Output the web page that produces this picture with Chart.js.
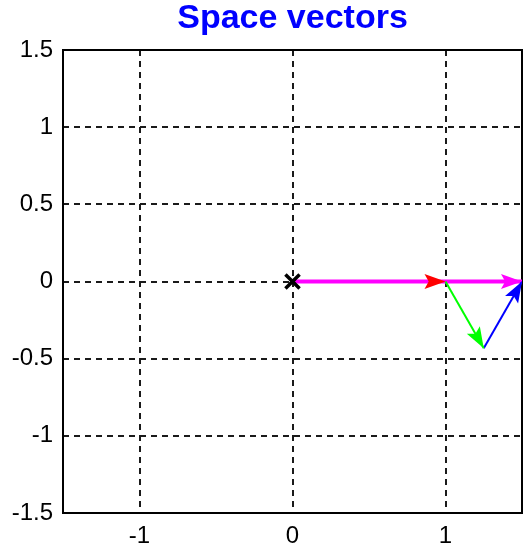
<!DOCTYPE html>
<html>
<head>
<meta charset="utf-8">
<title>Space vectors</title>
<script src="https://cdn.jsdelivr.net/npm/chart.js@4/dist/chart.umd.min.js"></script>
<style>
  html, body { margin: 0; padding: 0; background: #ffffff; }
  #wrap { width: 524px; height: 550px; }
</style>
</head>
<body>
<div id="wrap"><canvas id="chart" width="524" height="550"></canvas></div>
<script>
// Space vectors: phase components and their resultant
const vectorLabels = ['u_a', 'u_s', 'u_b', 'u_c'];
const startX = [0, 0, 1, 1.25];
const startY = [0, 0, 0, -0.433];
const endX   = [1, 1.5, 1.25, 1.5];
const endY   = [0, 0, -0.433, 0];

// Origin marker
const originX = [0];
const originY = [0];

// Axis ticks
const xTickValues = [-1, 0, 1];
const yTickValues = [-1.5, -1, -0.5, 0, 0.5, 1, 1.5];

const titleText = 'Space vectors';

// Styling per vector
const vectorColors = ['#ff0000', '#ff00ff', '#00ff00', '#0000ff'];
const vectorWidths = [3, 4, 2, 2];
const vectorOrder  = [3, 2, 1, 1];

const tickFont = { family: '"Liberation Sans", Arial, sans-serif', size: 24 };

const datasets = vectorLabels.map((lab, i) => ({
  label: lab,
  data: [{ x: startX[i], y: startY[i] }, { x: endX[i], y: endY[i] }],
  showLine: true,
  borderColor: vectorColors[i],
  backgroundColor: vectorColors[i],
  borderWidth: vectorWidths[i],
  pointRadius: 0,
  order: vectorOrder[i],
  arrowHead: { length: 21, width: 7.5 }
}));

datasets.push({
  label: 'origin',
  data: originX.map((x, i) => ({ x: x, y: originY[i] })),
  showLine: false,
  pointStyle: 'crossRot',
  pointRadius: 10,
  pointBorderWidth: 3.5,
  borderColor: '#000000',
  backgroundColor: '#000000',
  order: 0
});

// Filled arrow heads at the end of each vector
const arrowHeads = {
  id: 'arrowHeads',
  afterDatasetsDraw(chart) {
    const ctx = chart.ctx;
    chart.data.datasets.forEach((ds, i) => {
      if (!ds.arrowHead) return;
      const pts = chart.getDatasetMeta(i).data;
      const a = pts[pts.length - 2], b = pts[pts.length - 1];
      const ang = Math.atan2(b.y - a.y, b.x - a.x);
      const L = ds.arrowHead.length, W = ds.arrowHead.width;
      ctx.save();
      ctx.translate(b.x, b.y);
      ctx.rotate(ang);
      ctx.beginPath();
      ctx.moveTo(0, 0);
      ctx.lineTo(-L, -W);
      ctx.lineTo(-L * 0.8, 0);
      ctx.lineTo(-L, W);
      ctx.closePath();
      ctx.fillStyle = ds.borderColor;
      ctx.fill();
      ctx.restore();
    });
  }
};

// Box around the plotting area
const plotFrame = {
  id: 'plotFrame',
  beforeDatasetsDraw(chart) {
    const { ctx, chartArea: a } = chart;
    ctx.save();
    ctx.strokeStyle = '#000000';
    ctx.lineWidth = 2;
    ctx.strokeRect(a.left, a.top, a.right - a.left, a.bottom - a.top);
    ctx.restore();
  }
};

// Title centred over the plotting area
const plotTitle = {
  id: 'plotTitle',
  afterDraw(chart) {
    const { ctx, chartArea: a } = chart;
    ctx.save();
    ctx.font = 'bold 34px "Liberation Sans", Arial, sans-serif';
    ctx.fillStyle = '#0000ff';
    ctx.textAlign = 'center';
    ctx.textBaseline = 'alphabetic';
    ctx.fillText(titleText, (a.left + a.right) / 2, 28);
    ctx.restore();
  }
};

new Chart(document.getElementById('chart'), {
  type: 'scatter',
  data: { datasets: datasets },
  plugins: [plotFrame, arrowHeads, plotTitle],
  options: {
    responsive: false,
    animation: false,
    layout: { autoPadding: false, padding: { top: 50, right: 2, bottom: 0, left: 0 } },
    plugins: {
      legend: { display: false },
      title: { display: false },
      tooltip: { enabled: false }
    },
    scales: {
      x: {
        type: 'linear',
        min: -1.5,
        max: 1.5,
        afterBuildTicks(scale) { scale.ticks = xTickValues.map(v => ({ value: v })); },
        afterFit(scale) {
          scale.height = 37;
          scale.paddingLeft = 0;
          scale.paddingRight = 0;
        },
        ticks: {
          color: '#000000',
          font: tickFont,
          padding: 9,
          callback: v => String(v)
        },
        grid: { color: '#1a1a1a', lineWidth: 2, drawTicks: false },
        border: { display: false, dash: [6, 5] }
      },
      y: {
        type: 'linear',
        min: -1.5,
        max: 1.5,
        afterBuildTicks(scale) { scale.ticks = yTickValues.map(v => ({ value: v })); },
        afterFit(scale) {
          scale.width = 63;
          scale.paddingTop = 0;
          scale.paddingBottom = 0;
        },
        ticks: {
          color: '#000000',
          font: tickFont,
          padding: 10,
          callback: v => String(v)
        },
        grid: { color: '#1a1a1a', lineWidth: 2, drawTicks: false },
        border: { display: false, dash: [6, 5] }
      }
    }
  }
});
</script>
</body>
</html>
